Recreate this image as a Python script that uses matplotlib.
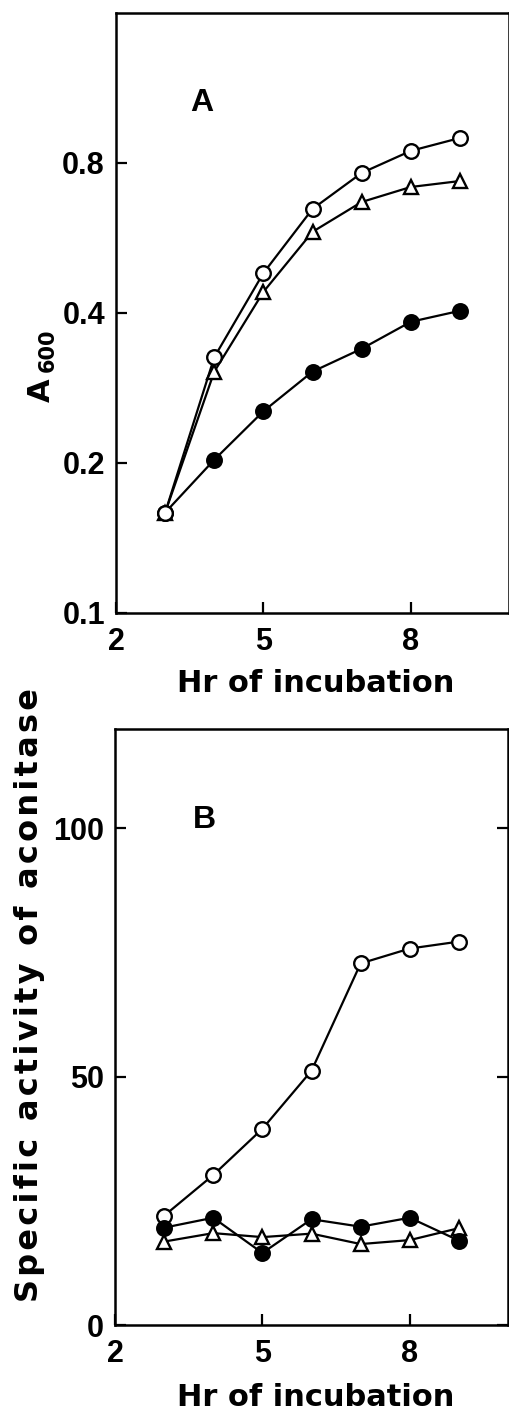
import matplotlib
matplotlib.use('Agg')
from matplotlib import pyplot as plt

hours = [3, 4, 5, 6, 7, 8, 9]

# panel A: growth (A600)
a_open_circle = [0.159, 0.326, 0.481, 0.647, 0.764, 0.846, 0.898]
a_open_tri = [0.159, 0.305, 0.441, 0.582, 0.668, 0.716, 0.736]
a_filled = [0.159, 0.203, 0.254, 0.305, 0.339, 0.384, 0.404]

# panel B: specific activity of aconitase
b_open_circle = [22.0, 30.2, 39.5, 51.2, 72.8, 75.8, 77.2]
b_filled = [19.6, 21.6, 14.5, 21.3, 19.8, 21.6, 17.0]
b_open_tri = [16.8, 18.5, 17.7, 18.4, 16.3, 17.1, 19.5]

x_ticks = [2, 5, 8]
a_yticks = [0.1, 0.2, 0.4, 0.8]
a_ylabels = ['0.1', '0.2', '0.4', '0.8']
b_yticks = [0, 50, 100]

plt.rcParams['font.family'] = ['Liberation Sans', 'DejaVu Sans']
plt.rcParams['font.weight'] = 'bold'

fig = plt.figure(figsize=(5.1, 14.12), dpi=100)
axA = fig.add_axes([0.2275, 0.5659, 0.7706, 0.4249])
axB = fig.add_axes([0.2255, 0.0616, 0.7706, 0.4221])


def style_axes(ax, right_ticks):
    for s in ax.spines.values():
        s.set_linewidth(1.8)
    ax.tick_params(direction='in', length=8, width=1.6, labelsize=22,
                   right=right_ticks, top=False, pad=8)
    ax.tick_params(axis='x', pad=10)
    ax.set_xlim(2, 10)
    ax.set_xticks(x_ticks)


def draw(ax, y, marker, face):
    ax.plot(hours, y, color='black', lw=1.6, marker=marker, ms=10.5,
            mfc=face, mec='black', mew=1.7, clip_on=False)


draw(axA, a_filled, 'o', 'black')
draw(axA, a_open_tri, '^', 'white')
draw(axA, a_open_circle, 'o', 'white')
axA.set_yscale('log')
axA.set_ylim(0.1, 1.6)
axA.minorticks_off()
axA.set_yticks(a_yticks)
axA.set_yticklabels(a_ylabels)
style_axes(axA, False)
axA.text(0.219, 0.85, 'A', transform=axA.transAxes, fontsize=23,
         ha='center', va='center')

draw(axB, b_open_circle, 'o', 'white')
draw(axB, b_open_tri, '^', 'white')
draw(axB, b_filled, 'o', 'black')
axB.set_ylim(0, 120)
axB.set_yticks(b_yticks)
style_axes(axB, True)
axB.tick_params(axis='y', labelright=False)
axB.text(0.228, 0.847, 'B', transform=axB.transAxes, fontsize=23,
         ha='center', va='center')

# axis labels
lab = dict(family=['DejaVu Sans'], ha='center', va='center')
fig.text(316 / 510, 1 - 684 / 1412, 'Hr of incubation', fontsize=22, **lab)
fig.text(316 / 510, 1 - 1398 / 1412, 'Hr of incubation', fontsize=22, **lab)
fig.text(41 / 510, 1 - 390 / 1412, 'A', fontsize=22, rotation=90, **lab)
fig.text(48 / 510, 1 - 350 / 1412, '600', fontsize=15, rotation=90, **lab)
spaced = '\u200a'.join('Specific activity of aconitase')
fig.text(30 / 510, 1 - 995 / 1412, spaced, fontsize=23, rotation=90, **lab)

fig.savefig('out.png', dpi=100)
